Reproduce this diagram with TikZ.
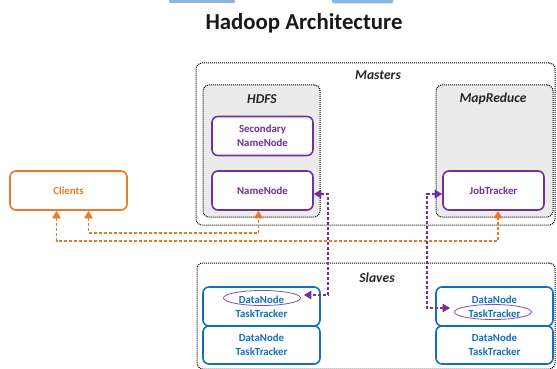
\documentclass[tikz,border=0pt]{standalone}
\usepackage{fontspec}
\setmainfont{Carlito}
\usetikzlibrary{arrows.meta,shapes.geometric}

\definecolor{hpurple}{RGB}{112,48,160}
\definecolor{horange}{RGB}{232,122,42}
\definecolor{hblue}{RGB}{20,110,190}
\definecolor{hgray}{RGB}{235,235,235}
\definecolor{hsky}{RGB}{141,180,226}

\tikzset{
  group/.style={draw=black,dash pattern=on 1pt off 1pt,line width=1pt,rounded corners=6pt,inner sep=0pt},
  grouplabel/.style={font=\bfseries\itshape\fontsize{13.6}{15}\selectfont,text=black!85,inner sep=0pt},
  box/.style={line width=1.6pt,fill=white,rounded corners=6pt,align=center,inner sep=0pt,
    font=\bfseries\fontsize{10.8}{14}\selectfont},
  pbox/.style={box,draw=hpurple,text=hpurple,minimum width=101pt,minimum height=39pt},
  obox/.style={box,draw=horange,text=horange,minimum width=117pt,minimum height=39pt},
  bbox/.style={box,draw=hblue,text=hblue,minimum width=117pt},
  oval/.style={ellipse,draw=hpurple!85,line width=0.8pt,minimum width=77pt,minimum height=15pt,inner sep=0pt},
  tip/.tip={Triangle[length=7.5pt,width=8.5pt]},
  oline/.style={horange,line width=1.5pt,dash pattern=on 3pt off 2pt,tip-tip},
  pline/.style={hpurple,line width=1.5pt,dash pattern=on 3pt off 2pt,tip-tip},
}

\begin{document}
\begin{tikzpicture}[x=1pt,y=-1pt]

\useasboundingbox (0,0) rectangle (557,369);

% bits of the shapes above
\fill[hsky,rounded corners=2pt] (169,-5) -- (169,3) -- (236,3) -- (232,-5) -- cycle;
\fill[hsky,rounded corners=2pt] (332,-5) -- (332,3.5) -- (393,3.5) -- (393,-5) -- cycle;

\node[font=\bfseries\fontsize{22.8}{26}\selectfont,text=black!90,inner sep=0pt] (title) at (304,23) {Hadoop Architecture};

% masters
\node[group,minimum width=359pt,minimum height=162pt] (masters) at (375.5,144) {};
\node[grouplabel] (masterslbl) at (378,75) {Masters};

\node[group,fill=hgray,minimum width=117pt,minimum height=132pt] (hdfs) at (261.5,151) {};
\node[grouplabel] (hdfslbl) at (262,99) {HDFS};

\node[group,fill=hgray,minimum width=117pt,minimum height=132pt] (mapred) at (494.5,151) {};
\node[grouplabel] (mapredlbl) at (493,99) {MapReduce};

\node[pbox] (secnn) at (262.5,136) {Secondary\\NameNode};
\node[pbox] (nn) at (262.5,190.5) {NameNode};
\node[pbox] (jt) at (493.5,190.5) {JobTracker};

\node[obox] (clients) at (68.5,190.5) {Clients};

% slaves
\node[group,minimum width=358pt,minimum height=106pt] (slaves) at (376,316) {};
\node[grouplabel] (slaveslbl) at (377,278) {Slaves};

\node[bbox,minimum height=39pt] (dn1) at (261.5,306.5) {DataNode\\TaskTracker};
\node[bbox,minimum height=38pt] (dn2) at (261.5,345) {DataNode\\TaskTracker};
\node[bbox,minimum height=39pt] (dn3) at (494.5,306.5) {DataNode\\TaskTracker};
\node[bbox,minimum height=38pt] (dn4) at (494.5,345) {DataNode\\TaskTracker};

\node[oval] (e1) at (262,298) {};
\node[oval] (e2) at (493,312) {};

% connectors
\draw[oline] ([xshift=20pt]clients.south) -- ++(0,22) -| ([xshift=-4pt]nn.south);
\draw[oline] ([xshift=-12pt]clients.south) -- ++(0,30) -| ([xshift=4.5pt]jt.south);

\draw[pline] ([yshift=-3.5pt]nn.east) -- ++(14,0) |- ([xshift=3pt,yshift=3pt]e1.east);
\draw[pline] ([yshift=-3.5pt]jt.west) -- ++(-15,0) |- ([xshift=-4pt,yshift=4pt]e2.west);

\end{tikzpicture}
\end{document}
